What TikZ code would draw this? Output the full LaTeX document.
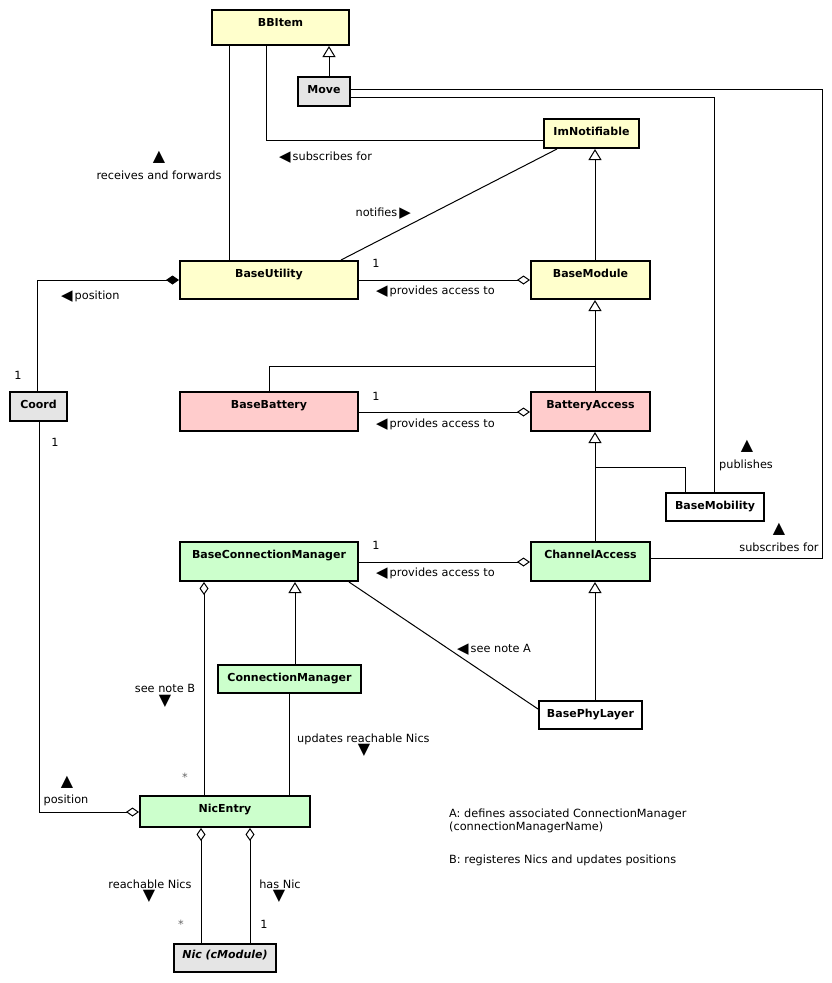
\documentclass[tikz,border=0pt]{standalone}
\usepackage{fontspec}
\setmainfont{DejaVu Sans}
\usetikzlibrary{arrows.meta}
\definecolor{cyellow}{HTML}{FFFFCC}
\definecolor{cpink}{HTML}{FFCCCC}
\definecolor{cgreen}{HTML}{CCFFCC}
\definecolor{cgray}{HTML}{E5E5E5}
\newcommand\lblfont{\fontsize{11.3}{13}\selectfont}
\newcommand\clsfont{\fontsize{11}{13}\selectfont\bfseries}
\newcommand\trimark[1]{{\fontsize{16}{16}\selectfont #1}}
\newcommand\inltri[1]{\raisebox{-1.5pt}{\fontsize{15}{15}\selectfont #1}}
\begin{document}
\begin{tikzpicture}[x=1pt,y=-1pt,
  cls/.style={draw=black, line width=2pt, inner xsep=0pt, inner ysep=0pt,
    anchor=north west, font=\clsfont, text height=16pt},
  conn/.style={line width=1pt},
  gen/.style={-{Triangle[open,length=11pt,width=13pt]}},
  agg/.style={-{Diamond[open,length=13pt,width=9pt]}},
  comp/.style={{Diamond[length=13pt,width=9pt]}-},
  lbl/.style={font=\lblfont, inner sep=0pt},
  mult/.style={font=\lblfont, inner sep=0pt, anchor=base},
  star/.style={font=\lblfont, inner sep=0pt, text=black!60},
  trimk/.style={inner sep=0pt, anchor=center}
]
\useasboundingbox (0,0) rectangle (832,983);
\fill[white] (0,0) rectangle (832,983);

% classes
\node[cls, fill=cyellow, minimum width=137pt, text depth=19pt] (bbitem) at (211,9) {BBItem};
\node[cls, fill=cgray, minimum width=52pt, text depth=13pt] (move) at (297,76) {Move};
\node[cls, fill=cyellow, minimum width=95pt, text depth=13pt] (imnot) at (543,118) {ImNotifiable};
\node[cls, fill=cyellow, minimum width=178pt, text depth=22pt] (baseutil) at (179,260) {BaseUtility};
\node[cls, fill=cyellow, minimum width=119pt, text depth=22pt] (basemod) at (530,260) {BaseModule};
\node[cls, fill=cgray, minimum width=57pt, text depth=13pt] (coord) at (9,391) {Coord};
\node[cls, fill=cpink, minimum width=178pt, text depth=23pt] (basebat) at (179,391) {BaseBattery};
\node[cls, fill=cpink, minimum width=119pt, text depth=23pt] (batacc) at (530,391) {BatteryAccess};
\node[cls, fill=white, minimum width=98pt, text depth=12pt] (basemob) at (665,492) {BaseMobility};
\node[cls, fill=cgreen, minimum width=178pt, text depth=23pt] (bcm) at (179,541) {BaseConnectionManager};
\node[cls, fill=cgreen, minimum width=119pt, text depth=23pt] (chan) at (530,541) {ChannelAccess};
\node[cls, fill=cgreen, minimum width=143pt, text depth=12pt] (connmgr) at (217,664) {ConnectionManager};
\node[cls, fill=white, minimum width=103pt, text depth=12pt] (phy) at (538,700) {BasePhyLayer};
\node[cls, fill=cgreen, minimum width=170pt, text depth=15pt] (nicentry) at (139,795) {NicEntry};
\node[cls, fill=cgray, minimum width=102pt, text height=14pt, text depth=14pt] (nic) at (173,943) {\itshape Nic (cModule)};

% connectors
\draw[conn] (bbitem.south -| 229,0) -- (baseutil.north -| 229,0);
\draw[conn] (bbitem.south -| 266,0) |- (imnot.west |- 0,140);
\draw[conn, gen] (move.north -| 329,0) -- (bbitem.south -| 329,0);
\draw[conn] (move.east |- 0,89) -- (822,89) -- (822,558) -- (chan.east |- 0,558);
\draw[conn] (move.east |- 0,97) -| (basemob.north -| 714,0);
\draw[conn] (baseutil.north -| 341,0) -- (imnot.south -| 557,0);
\draw[conn, gen] (basemod.north -| 595,0) -- (imnot.south -| 595,0);
\draw[conn, agg] (baseutil.east |- 0,280) -- (basemod.west |- 0,280);
\draw[conn, comp] (baseutil.west |- 0,280) -| (coord.north -| 37,0);
\draw[conn] (basebat.north -| 269,0) |- (595,366);
\draw[conn, gen] (batacc.north -| 595,0) -- (basemod.south -| 595,0);
\draw[conn, agg] (basebat.east |- 0,412) -- (batacc.west |- 0,412);
\draw[conn, gen] (chan.north -| 595,0) -- (batacc.south -| 595,0);
\draw[conn] (basemob.north -| 685,0) |- (595,467);
\draw[conn, agg] (bcm.east |- 0,562) -- (chan.west |- 0,562);
\draw[conn, gen] (phy.north -| 595,0) -- (chan.south -| 595,0);
\draw[conn] (bcm.south -| 349,0) -- (phy.west |- 0,709);
\draw[conn, gen] (connmgr.north -| 295,0) -- (bcm.south -| 295,0);
\draw[conn, agg] (nicentry.north -| 204,0) -- (bcm.south -| 204,0);
\draw[conn] (connmgr.south -| 289,0) -- (nicentry.north -| 289,0);
\draw[conn, agg] (coord.south -| 39,0) |- (nicentry.west |- 0,812);
\draw[conn, agg] (nic.north -| 201,0) -- (nicentry.south -| 201,0);
\draw[conn, agg] (nic.north -| 250,0) -- (nicentry.south -| 250,0);

% labels
\node[trimk] (t1) at (159,157) {\trimark{▲}};
\node[lbl, anchor=base] (l1) at (159,179) {receives and forwards};
\node[lbl, anchor=base west] (l2) at (279,160) {\inltri{◀}\kern2pt subscribes for};
\node[lbl, anchor=base east] (l3) at (411,216) {notifies\kern2pt\inltri{▶}};
\node[mult] (m1) at (376,267) {1};
\node[lbl, anchor=base west] (l4) at (376,294) {\inltri{◀}\kern2pt provides access to};
\node[lbl, anchor=base west] (l5) at (61,299) {\inltri{◀}\kern2pt position};
\node[mult] (m2) at (18,379) {1};
\node[mult] (m3) at (55,446) {1};
\node[mult] (m4) at (376,400) {1};
\node[lbl, anchor=base west] (l6) at (376,427) {\inltri{◀}\kern2pt provides access to};
\node[trimk] (t2) at (747,446) {\trimark{▲}};
\node[lbl, anchor=base] (l7) at (746,468) {publishes};
\node[trimk] (t3) at (779,529) {\trimark{▲}};
\node[lbl, anchor=base] (l8) at (779,551) {subscribes for};
\node[mult] (m5) at (376,549) {1};
\node[lbl, anchor=base west] (l9) at (376,576) {\inltri{◀}\kern2pt provides access to};
\node[lbl, anchor=base west] (l10) at (457,652) {\inltri{◀}\kern2pt see note A};
\node[lbl, anchor=base] (l11) at (165,692) {see note B};
\node[trimk] (t4) at (165,701) {\trimark{▼}};
\node[lbl, anchor=base west] (l12) at (297,742) {updates reachable Nics};
\node[trimk] (t5) at (364,750) {\trimark{▼}};
\node[star] (s1) at (185,777) {*};
\node[trimk] (t6) at (67,782) {\trimark{▲}};
\node[lbl, anchor=base] (l13) at (66,803) {position};
\node[lbl, anchor=base] (l14) at (150,888) {reachable Nics};
\node[trimk] (t7) at (149,896) {\trimark{▼}};
\node[lbl, anchor=base] (l15) at (280,888) {has Nic};
\node[trimk] (t8) at (279,896) {\trimark{▼}};
\node[star] (s2) at (181,924) {*};
\node[mult] (m6) at (264,928) {1};

% notes
\node[lbl, anchor=base west] (n1) at (449,817) {A: defines associated ConnectionManager};
\node[lbl, anchor=base west] (n2) at (449,830) {(connectionManagerName)};
\node[lbl, anchor=base west] (n3) at (449,863) {B: registeres Nics and updates positions};
\end{tikzpicture}
\end{document}
